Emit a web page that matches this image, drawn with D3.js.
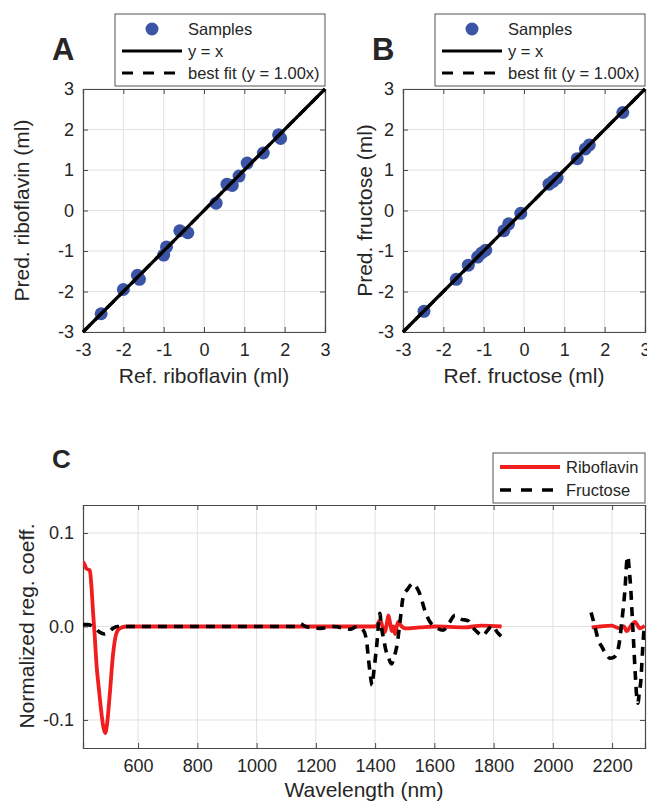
<!DOCTYPE html>
<html>
<head>
<meta charset="utf-8">
<script src="https://cdn.jsdelivr.net/npm/d3@7"></script>
<style>
  body { margin: 0; background: #fff; }
  text { font-family: "Liberation Sans", Arial, sans-serif; fill: #262626; }
</style>
</head>
<body>
<script>
// ---- data ----
const scatterTicks = [-3, -2, -1, 0, 1, 2, 3];

const refRibo  = [-2.55, -2.0, -1.65, -1.6, -1.0, -0.93, -0.6, -0.4, 0.3, 0.57, 0.7, 0.87, 1.07, 1.47, 1.85, 1.9];
const predRibo = [-2.55, -1.95, -1.6, -1.7, -1.1, -0.9, -0.5, -0.55, 0.18, 0.65, 0.62, 0.85, 1.17, 1.42, 1.87, 1.78];

const refFruc  = [-2.48, -1.68, -1.38, -1.15, -1.05, -0.95, -0.5, -0.38, -0.08, 0.62, 0.72, 0.82, 1.32, 1.52, 1.62, 2.45];
const predFruc = [-2.49, -1.7, -1.35, -1.15, -1.05, -0.98, -0.5, -0.33, -0.07, 0.65, 0.72, 0.8, 1.28, 1.52, 1.62, 2.42];

const wlTicks = [600, 800, 1000, 1200, 1400, 1600, 1800, 2000, 2200];
const coefTicks = [-0.1, 0.0, 0.1];

// null marks the gap in the spectrum
const riboWl  = [414, 420, 425, 437, 442, 448, 454, 459, 468, 476, 483, 489, 495, 504, 515, 526, 538, 560, 700, 900, 1100, 1300, 1398,
                 1408, 1417, 1425, 1433, 1440, 1445, 1451, 1456, 1462, 1467, 1473, 1478, 1490, 1501, 1550, 1600, 1700, 1760, 1827,
                 null, 2131, 2160, 2198, 2215, 2227, 2240, 2249, 2262, 2277, 2294, 2310];
const riboVal = [0.069, 0.066, 0.062, 0.060, 0.045, 0.015, -0.012, -0.038, -0.068, -0.092, -0.108, -0.114, -0.105, -0.074, -0.031, -0.008, -0.002, 0, 0, 0, 0, 0, 0,
                 0.002, 0.007, 0.0, -0.006, 0.004, 0.012, 0.003, -0.005, 0.0, -0.008, 0.0, 0.005, 0.0, -0.002, -0.001, 0.0, -0.001, 0.001, 0.0,
                 null, -0.001, 0.0, 0.001, -0.001, -0.002, 0.0, -0.005, 0.0, 0.005, -0.002, 0.001];

const frucWl  = [414, 430, 442, 455, 470, 487, 500, 515, 530, 700, 900, 1050, 1130, 1147, 1165, 1214, 1260, 1315, 1340, 1360,
                 1371, 1377, 1383, 1390, 1395, 1400, 1407, 1412, 1416, 1421, 1428, 1436, 1445, 1455, 1465, 1475, 1484, 1495,
                 1510, 1528, 1540, 1552, 1568, 1585, 1602, 1630, 1650, 1670, 1690, 1714, 1725, 1745, 1762, 1780, 1795, 1812, 1827,
                 null, 2129, 2141, 2154, 2166, 2180, 2193, 2205, 2216, 2227, 2232, 2238, 2244, 2249, 2253, 2258, 2263, 2268,
                 2273, 2278, 2283, 2287, 2292, 2297, 2302, 2306, 2310];
const frucVal = [0.002, 0.002, 0.001, -0.002, -0.006, -0.008, -0.006, -0.002, 0, 0, 0, 0, 0, 0.003, 0, -0.002, 0, -0.003, 0, -0.004,
                 -0.015, -0.033, -0.050, -0.063, -0.050, -0.036, -0.015, 0.005, 0.014, 0.0, -0.012, -0.025, -0.033, -0.040, -0.032, -0.018, 0.005, 0.032,
                 0.040, 0.046, 0.042, 0.034, 0.017, 0.005, 0.0, -0.004, 0.004, 0.012, 0.008, 0.006, 0.001, -0.006, -0.010, -0.004, 0.001, -0.006, -0.011,
                 null, 0.015, 0.001, -0.015, -0.022, -0.030, -0.034, -0.033, -0.029, -0.011, 0.003, 0.021, 0.042, 0.068, 0.075, 0.060, 0.040, 0.010,
                 -0.020, -0.050, -0.075, -0.082, -0.070, -0.058, -0.030, -0.010, 0.0];

// ---- setup ----
const W = 647, H = 804;
const axisColor = "#4a4a4a", gridColor = "#e1e1e1";
const blue = "#3c54a5", red = "#f01e1e";
const hyphen = s => s.replace("\u2212", "-");

const svg = d3.select("body").append("svg")
    .attr("width", W)
    .attr("height", H);

function drawFrame(g, x, y, xTicks, yTicks, fmtX, fmtY) {
    const [x0, x1] = x.range();
    const [y0, y1] = y.range();  // y0 bottom, y1 top
    // grid
    g.append("g").selectAll("line").data(xTicks).join("line")
        .attr("x1", d => x(d)).attr("x2", d => x(d))
        .attr("y1", y1).attr("y2", y0)
        .attr("stroke", gridColor);
    g.append("g").selectAll("line").data(yTicks).join("line")
        .attr("x1", x0).attr("x2", x1)
        .attr("y1", d => y(d)).attr("y2", d => y(d))
        .attr("stroke", gridColor);
    // axes, ticks pointing in, mirrored on top/right
    g.append("g").attr("transform", `translate(0,${y0})`)
        .call(d3.axisBottom(x).tickValues(xTicks).tickSize(-5).tickPadding(11).tickFormat(d => hyphen(fmtX(d))));
    g.append("g").attr("transform", `translate(0,${y1})`)
        .call(d3.axisTop(x).tickValues(xTicks).tickSize(-5).tickFormat(""));
    g.append("g").attr("transform", `translate(${x0},0)`)
        .call(d3.axisLeft(y).tickValues(yTicks).tickSize(-5).tickPadding(9).tickFormat(d => hyphen(fmtY(d))));
    g.append("g").attr("transform", `translate(${x1},0)`)
        .call(d3.axisRight(y).tickValues(yTicks).tickSize(-5).tickFormat(""));
    g.selectAll(".domain").attr("stroke", axisColor).attr("stroke-width", 1.2);
    g.selectAll(".tick line").attr("stroke", axisColor);
    g.selectAll(".tick text").attr("font-size", 18).attr("fill", "#262626")
        .attr("font-family", '"Liberation Sans", Arial, sans-serif');
}

// ---- scatter panels A, B ----
function scatterPanel(left, letter, refs, preds, xTitle, yTitle, yTitleX) {
    const g = svg.append("g");
    const x = d3.scaleLinear().domain([-3, 3]).range([left, left + 242]);
    const y = d3.scaleLinear().domain([-3, 3]).range([332, 89]);
    drawFrame(g, x, y, scatterTicks, scatterTicks, d3.format("d"), d3.format("d"));

    g.append("g").selectAll("circle").data(refs).join("circle")
        .attr("cx", d => x(d))
        .attr("cy", (d, i) => y(preds[i]))
        .attr("r", 6.5)
        .attr("fill", blue);

    const diag = d3.line().x(d => x(d)).y(d => y(d));
    g.append("path").attr("d", diag([-3, 3]))
        .attr("stroke", "#000").attr("stroke-width", 3.2).attr("fill", "none");
    g.append("path").attr("d", d3.line().x(d => x(d)).y(d => y(1.00 * d))([-3, 3]))
        .attr("stroke", "#000").attr("stroke-width", 3.2).attr("stroke-dasharray", "10,7").attr("fill", "none");

    g.append("text").attr("x", (x(-3) + x(3)) / 2).attr("y", 383)
        .attr("text-anchor", "middle").attr("font-size", 21).text(xTitle);
    g.append("text")
        .attr("transform", `translate(${yTitleX},${(y(-3) + y(3)) / 2}) rotate(-90)`)
        .attr("text-anchor", "middle").attr("font-size", 21).text(yTitle);

    g.append("text").attr("x", left - 31).attr("y", 60)
        .attr("font-size", 31).attr("font-weight", "bold").attr("fill", "#111").text(letter);

    // legend
    const lx = left + 32;
    const lg = g.append("g");
    lg.append("rect").attr("x", lx).attr("y", 14).attr("width", 210).attr("height", 72)
        .attr("fill", "#fff").attr("stroke", "#555").attr("stroke-width", 1);
    lg.append("circle").attr("cx", lx + 37).attr("cy", 29).attr("r", 6.5).attr("fill", blue);
    lg.append("line").attr("x1", lx + 7).attr("x2", lx + 67).attr("y1", 51).attr("y2", 51)
        .attr("stroke", "#000").attr("stroke-width", 3.2);
    lg.append("line").attr("x1", lx + 7).attr("x2", lx + 67).attr("y1", 73).attr("y2", 73)
        .attr("stroke", "#000").attr("stroke-width", 3.2).attr("stroke-dasharray", "11,10");
    const labels = ["Samples", "y = x", "best fit (y = 1.00x)"];
    lg.selectAll("text.lab").data(labels).join("text")
        .attr("class", "lab")
        .attr("x", lx + 73)
        .attr("y", (d, i) => [29, 51, 73][i] + 6)
        .attr("font-size", 16.5)
        .text(d => d);
}

scatterPanel(83, "A", refRibo, predRibo, "Ref. riboflavin (ml)", "Pred. riboflavin (ml)", 29);
scatterPanel(403, "B", refFruc, predFruc, "Ref. fructose (ml)", "Pred. fructose (ml)", 372);

// ---- spectrum panel C ----
const gc = svg.append("g");
const xc = d3.scaleLinear().domain([414, 2311]).range([83, 645]);
const yc = d3.scaleLinear().domain([-0.13, 0.13]).range([748, 505]);
drawFrame(gc, xc, yc, wlTicks, coefTicks, d3.format("d"), d3.format(".1f"));

svg.append("clipPath").attr("id", "clipC").append("rect")
    .attr("x", 83).attr("y", 505).attr("width", 562).attr("height", 243);

const spec = d3.line()
    .defined(d => d[0] !== null)
    .x(d => xc(d[0]))
    .y(d => yc(d[1]))
    .curve(d3.curveMonotoneX);

gc.append("path")
    .attr("d", spec(riboWl.map((w, i) => [w, riboVal[i]])))
    .attr("clip-path", "url(#clipC)")
    .attr("fill", "none").attr("stroke", red).attr("stroke-width", 3.8);
gc.append("path")
    .attr("d", spec(frucWl.map((w, i) => [w, frucVal[i]])))
    .attr("clip-path", "url(#clipC)")
    .attr("fill", "none").attr("stroke", "#000").attr("stroke-width", 3.6)
    .attr("stroke-dasharray", "9,7");

gc.append("text").attr("x", 364).attr("y", 797)
    .attr("text-anchor", "middle").attr("font-size", 21).text("Wavelength (nm)");
gc.append("text")
    .attr("transform", `translate(34,626) rotate(-90)`)
    .attr("text-anchor", "middle").attr("font-size", 21).text("Normalized reg. coeff.");
gc.append("text").attr("x", 52).attr("y", 468)
    .attr("font-size", 26).attr("font-weight", "bold").attr("fill", "#111").text("C");

const lc = gc.append("g");
lc.append("rect").attr("x", 493).attr("y", 453).attr("width", 152).attr("height", 50)
    .attr("fill", "#fff").attr("stroke", "#555");
lc.append("line").attr("x1", 500).attr("x2", 560).attr("y1", 467).attr("y2", 467)
    .attr("stroke", red).attr("stroke-width", 3.8);
lc.append("line").attr("x1", 500).attr("x2", 560).attr("y1", 490).attr("y2", 490)
    .attr("stroke", "#000").attr("stroke-width", 3.6).attr("stroke-dasharray", "11,10");
lc.append("text").attr("x", 566).attr("y", 473).attr("font-size", 16.5).text("Riboflavin");
lc.append("text").attr("x", 566).attr("y", 496).attr("font-size", 16.5).text("Fructose");
</script>
</body>
</html>
